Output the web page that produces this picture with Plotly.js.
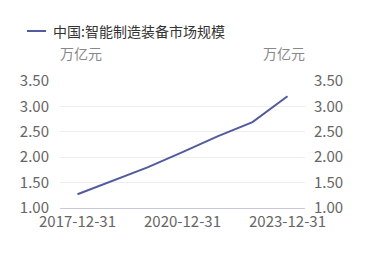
<!DOCTYPE html>
<html><head><meta charset="utf-8">
<script src="https://cdn.plot.ly/plotly-3.0.1.min.js"></script>
<style>html,body{margin:0;padding:0;background:#fff}#c{width:369px;height:276px}</style>
</head><body><div id="c"></div>
<script>
const dates = ["2017-12-31","2018-12-31","2019-12-31","2020-12-31","2021-12-31","2022-12-31","2023-12-31"];
const values = [1.27, 1.53, 1.80, 2.10, 2.41, 2.69, 3.20];
const seriesName = "中国:智能制造装备市场规模";
const unitLabel = "万亿元";
const xTickLabels = ["2017-12-31","2020-12-31","2023-12-31"];
const yTicks = [1.0, 1.5, 2.0, 2.5, 3.0, 3.5];

const FONT = '"Microsoft YaHei","Noto Sans CJK SC","Noto Sans",sans-serif';
const lineColor = '#525b9b';

// plot area in pixels: x 60..305, y 81..208
const px2x = p => (p - 60) / 245;
const py2y = p => (208 - p) / 127;

const data = [
  {x: dates, y: values, type:'scatter', mode:'lines', name: seriesName,
   line:{color: lineColor, width:2}, yaxis:'y', showlegend:false},
  {x: dates, y: values, type:'scatter', mode:'lines', showlegend:false, hoverinfo:'skip',
   line:{color:'rgba(0,0,0,0)', width:0}, yaxis:'y2'}
];
const layout = {
  width:369, height:276,
  margin:{l:60, r:64, t:81, b:68},
  paper_bgcolor:'#fff', plot_bgcolor:'#fff',
  font:{family:FONT, size:15, color:'#666'},
  showlegend:false,
  xaxis:{type:'category', range:[-0.5, 6.5], tickmode:'array', tickvals:xTickLabels, ticktext:xTickLabels,
    showgrid:false, zeroline:false, showline:true, linecolor:'#c8c8dc', linewidth:1, ticks:'',
    tickfont:{size:15, color:'#666'}, ticklabelstandoff:0},
  yaxis:{range:[1,3.5], tickvals:yTicks, tickformat:'.2f', showgrid:true, gridcolor:'#eeeeee',
    zeroline:false, showline:false, ticks:'', tickfont:{size:15, color:'#666'}, ticklabelstandoff:10},
  yaxis2:{range:[1,3.5], tickvals:yTicks, tickformat:'.2f', overlaying:'y', side:'right', showgrid:false,
    zeroline:false, showline:false, ticks:'', tickfont:{size:15, color:'#666'}, ticklabelstandoff:8},
  shapes:[
    {type:'line', xref:'paper', yref:'paper', x0:px2x(27), x1:px2x(46), y0:py2y(31), y1:py2y(31),
     line:{color:lineColor, width:2}}
  ],
  annotations:[
    {text:seriesName, xref:'paper', yref:'paper', x:px2x(51), y:py2y(31), xanchor:'left', yanchor:'middle',
     showarrow:false, font:{size:14, color:'#333'}},
    {text:unitLabel, xref:'paper', yref:'paper', x:px2x(58), y:py2y(53), xanchor:'left', yanchor:'middle',
     showarrow:false, font:{size:14, color:'#888'}},
    {text:unitLabel, xref:'paper', yref:'paper', x:px2x(307), y:py2y(53), xanchor:'right', yanchor:'middle',
     showarrow:false, font:{size:14, color:'#888'}}
  ]
};
Plotly.newPlot('c', data, layout, {displayModeBar:false, staticPlot:true});
</script></body></html>
